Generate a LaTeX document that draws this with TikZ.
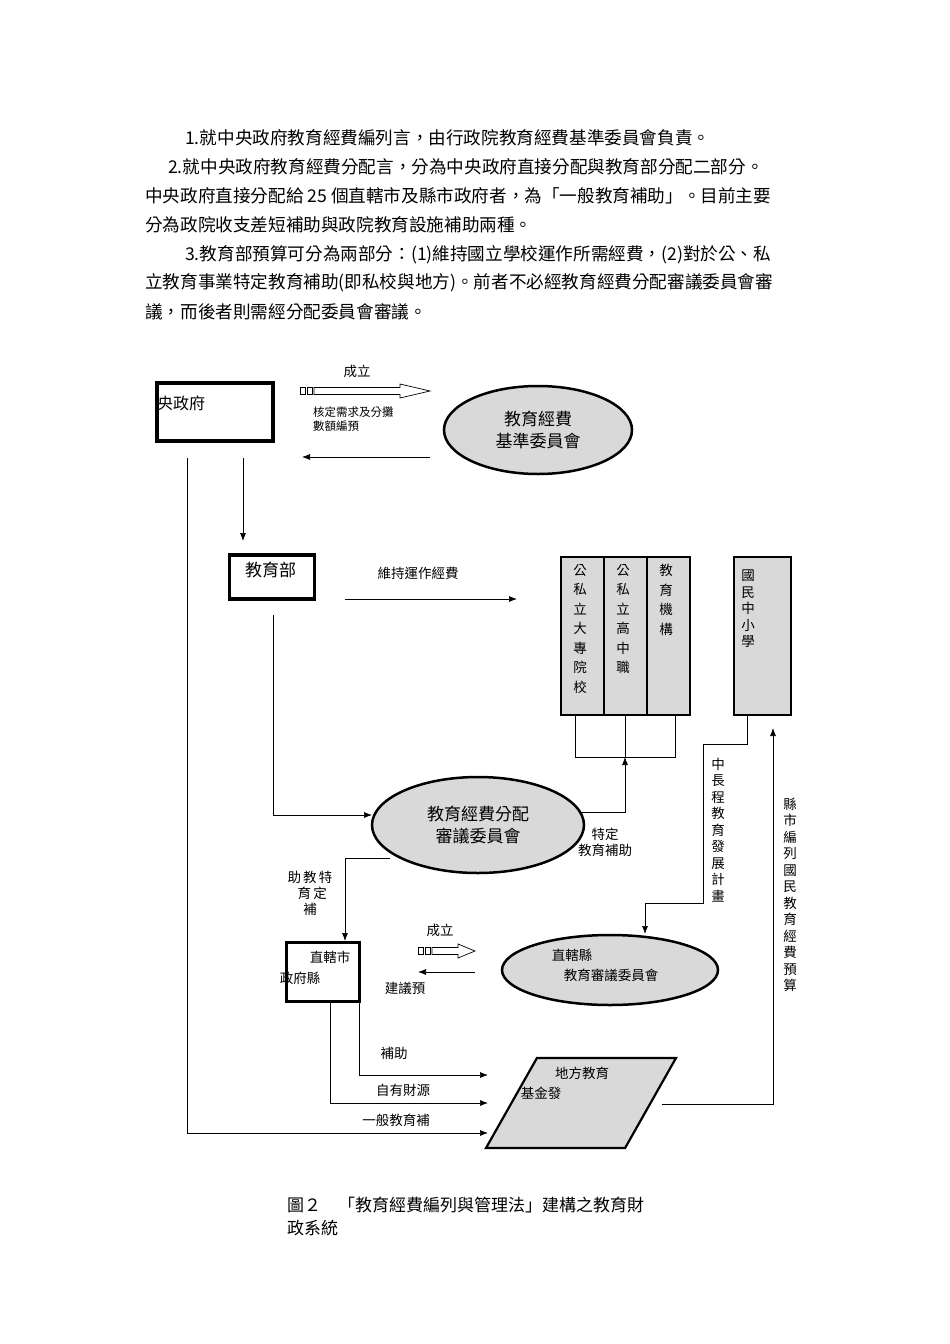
\documentclass[tikz,border=0pt]{standalone}
\usepackage{fontspec}
\setmainfont{Liberation Serif}
\newfontfamily\cjk{Noto Sans CJK TC}
\usetikzlibrary{shapes.geometric,arrows.meta}
\tikzset{
  box/.style={draw,line width=3.5pt,fill=white},
  vbox/.style={draw,line width=2.2pt,fill=black!15},
  oval/.style={ellipse,draw,line width=2.5pt,fill=black!15},
  link/.style={-{Latex[length=8pt,width=6pt]},line width=0.7pt},
  txt/.style={font=\cjk\fontsize{13.5}{16}\selectfont,inner sep=0pt},
  par/.style={anchor=west,font=\cjk\fontsize{17.6}{20}\selectfont,inner sep=0pt},
  vtxt/.style={txt,align=center,font=\cjk\fontsize{13.5}{19.5}\selectfont},
  vline/.style={txt,align=center,font=\cjk\fontsize{13.5}{16.5}\selectfont}
}
\newcommand\hollowarrow[4]{% x0, x1, y, head length
  \draw[line width=0.7pt,fill=white] (#1+14,#3-3.5) -- (#2-#4,#3-3.5) -- (#2-#4,#3-7) -- (#2,#3)
    -- (#2-#4,#3+7) -- (#2-#4,#3+3.5) -- (#1+14,#3+3.5) -- cycle;
  \draw[line width=0.7pt] (#1,#3-3.5) rectangle (#1+5,#3+3.5) (#1+7,#3-3.5) rectangle (#1+12,#3+3.5);}
\begin{document}
\begin{tikzpicture}[x=1pt,y=-1pt]
\useasboundingbox (0,0) rectangle (950,1344);
% text above the figure
\node[par] (p1) at (185,138) {1.就中央政府教育經費編列言，由行政院教育經費基準委員會負責。};
\node[par] (p2) at (168,167) {2.就中央政府教育經費分配言，分為中央政府直接分配與教育部分配二部分。};
\node[par] (p3) at (145,196) {中央政府直接分配給 25 個直轄市及縣市政府者，為「一般教育補助」。目前主要};
\node[par] (p4) at (145,225) {分為政院收支差短補助與政院教育設施補助兩種。};
\node[par] (p5) at (185,255) {3.教育部預算可分為兩部分：(1)維持國立學校運作所需經費，(2)對於公、私};
\node[par] (p6) at (145,283) {立教育事業特定教育補助(即私校與地方)。前者不必經教育經費分配審議委員會審};
\node[par] (p7) at (145,312) {議，而後者則需經分配委員會審議。};
% central level
\node[box,minimum width=116pt,minimum height=58pt] (gov) at (215,412) {};
\node[txt,anchor=west,font=\cjk\fontsize{16}{18}\selectfont] (govt) at (157,403) {央政府};
\hollowarrow{300}{430}{391}{30}
\node[txt] (est1t) at (357,371) {成立};
\node[txt,anchor=west,font=\cjk\fontsize{11.5}{14}\selectfont,align=left] (bud) at (313,419) {核定需求及分攤\\數額編預};
\node[oval,minimum width=188pt,minimum height=88pt,align=center,font=\cjk\fontsize{17}{22}\selectfont] (std) at (538,430) {教育經費\\基準委員會};
\coordinate (r1) at (430,457);
\coordinate (l1) at (302,457);
\draw[link] (r1) -- (l1);
% ministry
\node[box,minimum width=85pt,minimum height=44pt] (moe) at (272,577) {};
\node[txt,anchor=north west,font=\cjk\fontsize{17}{19}\selectfont] (moet) at (245,562) {教育部};
\draw[link] (243,458) -- (243,541);
\node[txt] (run) at (418,573) {維持運作經費};
\draw[link] (345,599) -- (517,599);
\node[vbox,minimum width=43pt,minimum height=158pt,anchor=north west] (univ) at (560,556) {};
\node[vbox,minimum width=43pt,minimum height=158pt,anchor=north west] (high) at (603,556) {};
\node[vbox,minimum width=43pt,minimum height=158pt,anchor=north west] (inst) at (646,556) {};
\node[vbox,minimum width=57pt,minimum height=158pt,anchor=north west] (elem) at (733,556) {};
\node[vtxt,anchor=north] at (580,564) {公\\私\\立\\大\\專\\院\\校};
\node[vtxt,anchor=north] at (623,564) {公\\私\\立\\高\\中\\職};
\node[vtxt,anchor=north] at (666,564) {教\\育\\機\\構};
\node[vline,anchor=north] at (748,570) {國\\民\\中\\小\\學};
\draw[line width=0.7pt] (575,714) -- (575,757) -- (675,757) -- (675,714);
\draw[line width=0.7pt] (625,714) -- (625,757);
% allocation committee
\node[oval,minimum width=212pt,minimum height=96pt,align=center,font=\cjk\fontsize{17}{22}\selectfont] (alloc) at (478,825) {教育經費分配\\審議委員會};
\draw[link] (273,615) -- (273,815) -- (372,815);
\draw[link] (580,812) -- (625,812) -- (625,757);
\node[txt,align=center] (spec) at (605,842) {特定\\教育補助};
\node[vtxt,font=\cjk\fontsize{13.5}{16}\selectfont] at (310,893) {助\,教\,特\\\,\,育\,定\\\,\,補\,\,};
% local level
\node[box,minimum width=73pt,minimum height=59pt] (city) at (323,972) {};
\node[txt] (cityt) at (330,957) {直轄市};
\node[txt] (cityt2) at (300,978) {政府縣};
\draw[link] (390,858) -- (345,858) -- (345,941);
\hollowarrow{418}{475}{951}{17}
\node[txt] (est2t) at (440,930) {成立};
\coordinate (r2) at (475,972);
\coordinate (l2) at (418,972);
\draw[link] (r2) -- (l2);
\node[txt] (adv) at (405,988) {建議預};
\node[oval,minimum width=216pt,minimum height=70pt] (lcom) at (610,970) {};
\node[txt] (lcomt) at (572,955) {直轄縣};
\node[txt] (lcomt2) at (611,975) {教育審議委員會};
\draw[line width=0.7pt] (747,714) -- (747,744) -- (703,744) -- (703,903) -- (645,903);
\draw[link] (645,903) -- (645,934);
\node[vline] at (718,830) {中\\長\\程\\教\\育\\發\\展\\計\\畫};
% local education fund
\node[trapezium,trapezium left angle=60,trapezium right angle=120,draw,line width=2.2pt,fill=black!15,minimum width=190pt,minimum height=90pt,trapezium stretches=true] (fund) at (581,1103) {};
\node[txt] (fundt) at (582,1073) {地方教育};
\node[txt] (fundt2) at (541,1093) {基金發};
\draw[link] (359,1002) -- (359,1075) -- (488,1075);
\draw[link] (330,1002) -- (330,1103) -- (488,1103);
\draw[link] (187,458) -- (187,1133) -- (488,1133);
\node[txt] (sub1) at (394,1053) {補助};
\node[txt] (own) at (403,1090) {自有財源};
\node[txt] (gen) at (396,1120) {一般教育補};
\draw[link] (662,1104) -- (773,1104) -- (773,728);
\node[vline] at (790,895) {縣\\市\\編\\列\\國\\民\\教\\育\\經\\費\\預\\算};
% caption
\node[anchor=west,font=\cjk\fontsize{17}{20}\selectfont,inner sep=0pt] (cap1) at (287,1205) {圖２　「教育經費編列與管理法」建構之教育財};
\node[anchor=west,font=\cjk\fontsize{17}{20}\selectfont,inner sep=0pt] (cap2) at (287,1228) {政系統};
\end{tikzpicture}
\end{document}
